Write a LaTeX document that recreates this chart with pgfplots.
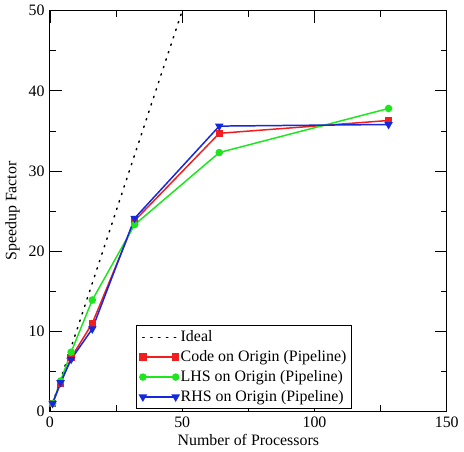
\documentclass[border=0pt]{standalone}
\usepackage{pgfplots}
\pgfplotsset{compat=1.18}
\usepackage{fontspec}
\setmainfont{Liberation Serif}
\definecolor{cred}{RGB}{240,30,30}
\definecolor{cgreen}{RGB}{30,230,30}
\definecolor{cblue}{RGB}{20,40,220}
\begin{document}
\fontsize{16}{19}\selectfont
\begin{tikzpicture}
\begin{axis}[
 scale only axis, width=399pt, height=403pt,
 xmin=0,xmax=150,ymin=0,ymax=50,
 xtick={0,50,100,150}, ytick={0,10,20,30,40,50},
 minor x tick num=1, minor y tick num=1,
 major tick length=12pt, minor tick length=6pt,
 tick align=inside,
 axis line style={line width=1pt},
 every tick/.style={black,line width=0.8pt},
 tick label style={font=\fontsize{16}{19}\selectfont},
 /pgf/number format/assume math mode=true,
 xlabel={Number of Processors}, ylabel={Speedup Factor},
 label style={font=\fontsize{16}{19}\selectfont},
 xlabel style={yshift=4pt},
 ylabel style={yshift=-2pt},
 legend style={at={(0.218,0.006)}, anchor=south west, draw=black, line width=0.8pt,
   font=\fontsize{16}{19}\selectfont, inner xsep=3pt, inner ysep=3pt, row sep=2.5pt},
 legend cell align=left,
 legend image code/.code={\draw[mark repeat=1,mark phase=1,#1] plot coordinates {(0pt,0pt) (33pt,0pt)};},
]
\addplot[black, line width=1.5pt, dash pattern=on 1.4pt off 6.5pt, line cap=round] coordinates {(1,1) (128,128)};
\addlegendentry{Ideal}
\addplot[cred, line width=1.5pt, mark=square*, mark size=3pt] coordinates {
(1,1) (4,3.5) (8,6.7) (16,11.0) (32,23.8) (64,34.7) (128,36.3)};
\addlegendentry{Code on Origin (Pipeline)}
\addplot[cgreen, line width=1.5pt, mark=*, mark size=3pt] coordinates {
(1,1) (4,3.8) (8,7.4) (16,13.9) (32,23.3) (64,32.3) (128,37.8)};
\addlegendentry{LHS on Origin (Pipeline)}
\addplot[cblue, line width=1.5pt, mark=triangle*, mark size=3.5pt, mark options={rotate=180}] coordinates {
(1,1) (4,3.6) (8,6.5) (16,10.3) (32,24.1) (64,35.6) (128,35.8)};
\addlegendentry{RHS on Origin (Pipeline)}
\end{axis}
\end{tikzpicture}
\end{document}
